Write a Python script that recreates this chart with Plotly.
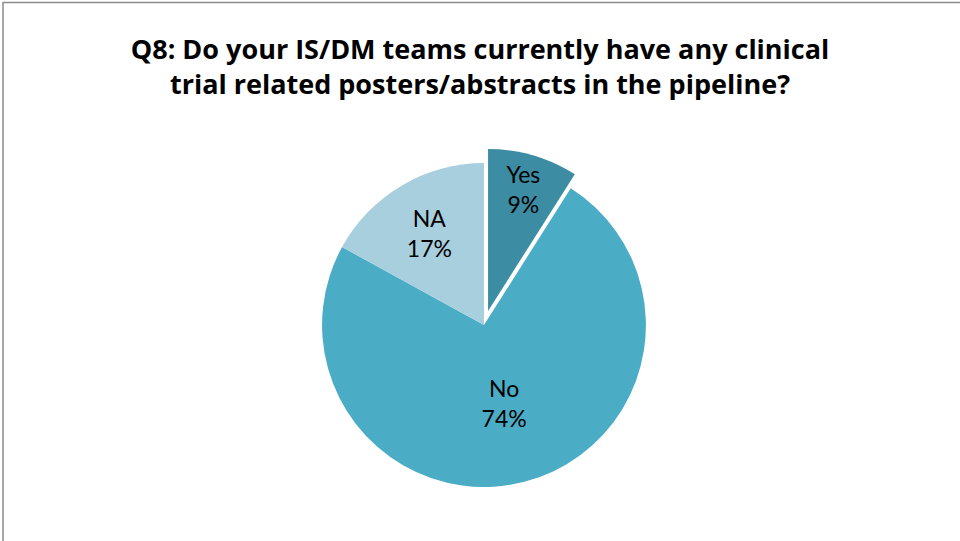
import plotly.graph_objects as go

labels = ["Yes", "No", "NA"]
values = [9, 74, 17]
colors = ["#3C8CA3", "#4BACC6", "#A8CFDD"]
pulls = [0.09, 0, 0]
title_text = "Q8: Do your IS/DM teams currently have any clinical<br>trial related posters/abstracts in the pipeline?"

fig = go.Figure(go.Pie(
    labels=labels,
    values=values,
    pull=pulls,
    sort=False,
    direction="clockwise",
    rotation=0,
    marker=dict(colors=colors, line=dict(width=0)),
    texttemplate="%{label}<br>%{percent:.0%}",
    textposition="inside",
    insidetextorientation="horizontal",
    textfont=dict(family="Lato, Carlito, sans-serif", size=23, color="black"),
    showlegend=False,
    hoverinfo="label+percent",
    domain=dict(x=[0.3203, 0.688], y=[0.073, 0.7255]),
))

fig.update_layout(
    width=960, height=541,
    margin=dict(l=0, r=0, t=0, b=0),
    paper_bgcolor="white",
    plot_bgcolor="white",
    uniformtext=dict(minsize=23, mode="show"),
    title=dict(
        text="<b>" + title_text + "</b>",
        x=0.5, xanchor="center",
        y=1 - 59 / 541, yanchor="middle",
        font=dict(family="Open Sans, sans-serif", size=27, color="black"),
    ),
    shapes=[dict(
        type="rect", xref="paper", yref="paper",
        x0=3 / 960, x1=1.05, y0=-0.05, y1=1 - 2.5 / 541,
        line=dict(color="#8C8C8C", width=1.5),
        fillcolor="rgba(0,0,0,0)", layer="below",
    )],
)

fig.write_html(
    "out.html",
    config={"displayModeBar": False},
    post_script="document.body.style.margin='0';document.body.style.padding='0';",
)
